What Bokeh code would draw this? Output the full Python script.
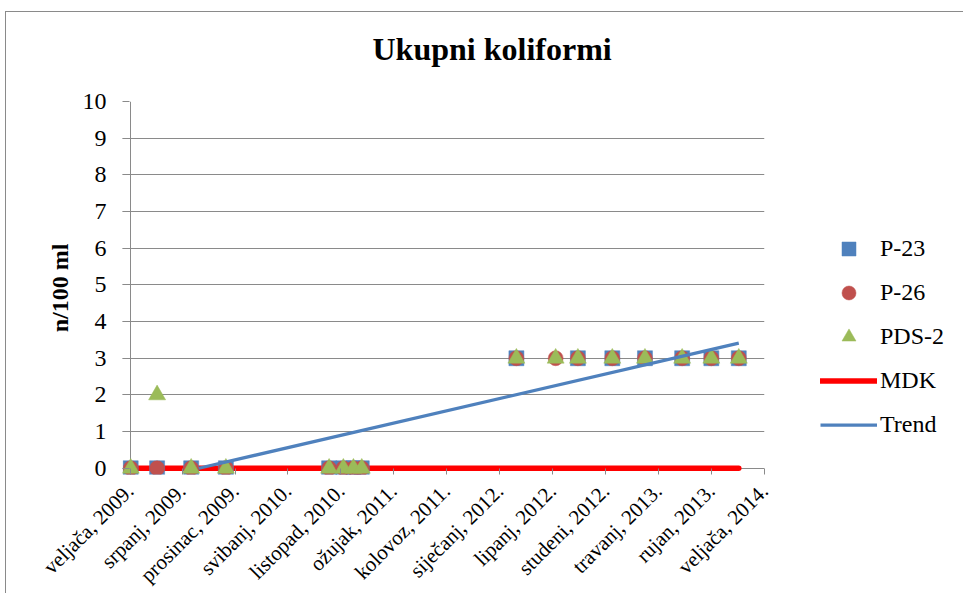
import math
import numpy as np
import pandas as pd
from bokeh.plotting import figure
from bokeh.models import (Range1d, FixedTicker, Legend, LegendItem, ColumnDataSource,
                          Title)
from bokeh.embed import file_html
from bokeh.resources import INLINE

# ---------------- data ----------------
dates = ["2009-02-03", "2009-04-20", "2009-07-27", "2009-11-04",
         "2010-08-28", "2010-10-08", "2010-11-06", "2010-11-30",
         "2012-02-18", "2012-06-10", "2012-08-13", "2012-11-20",
         "2013-02-22", "2013-06-09", "2013-09-01", "2013-11-19"]
p23 = [0, 0, 0, 0, 0, 0, 0, 0, 3, np.nan, 3, 3, 3, 3, 3, 3]
p26 = [0, 0, 0, 0, 0, 0, 0, 0, 3, 3, 3, 3, 3, 3, 3, 3]
pds2 = [0, 2, 0, 0, 0, 0, 0, 0, 3, 3, 3, 3, 3, 3, 3, 3]
mdk = [0] * 16
trend_dates = ["2009-08-18", "2013-11-19"]
trend_values = [0.0, 3.41]

tick_dates = ["2009-02-01", "2009-07-01", "2009-12-01", "2010-05-01", "2010-10-01",
              "2011-03-01", "2011-08-01", "2012-01-01", "2012-06-01", "2012-11-01",
              "2013-04-01", "2013-09-01", "2014-02-01"]
tick_labels = ["veljača, 2009.", "srpanj, 2009.", "prosinac, 2009.", "svibanj, 2010.",
               "listopad, 2010.", "ožujak, 2011.", "kolovoz, 2011.", "siječanj, 2012.",
               "lipanj, 2012.", "studeni, 2012.", "travanj, 2013.", "rujan, 2013.",
               "veljača, 2014."]
y_ticks = [0, 1, 2, 3, 4, 5, 6, 7, 8, 9, 10]


def to_ms(ds):
    return [float(v) for v in (pd.to_datetime(ds).astype("int64") // 10**6)]


x = to_ms(dates)
tick_ms = to_ms(tick_dates)
trend_x = to_ms(trend_dates)

FONT = "Liberation Serif"
GRID = "#8a8a8a"

# layout (pixels)
FW, FH = 642, 373
LEFT_PAD = 7.5           # room left of the value axis for the first markers
span = tick_ms[-1] - tick_ms[0]
x_start = tick_ms[0] - span * LEFT_PAD / (FW - LEFT_PAD)

p = figure(width=955, height=581, frame_width=FW, frame_height=FH,
           output_backend="svg", toolbar_location=None,
           x_range=Range1d(x_start, tick_ms[-1]),
           y_range=Range1d(-0.17, 10),
           min_border_left=116, min_border_right=197, min_border_top=89,
           min_border_bottom=119)
p.outline_line_color = None
p.background_fill_color = "white"
p.border_fill_color = "white"
p.styles = {"border-left": "1px solid #8a8a8a", "border-top": "1px solid #8a8a8a",
            "margin-left": "5px", "margin-top": "11px"}

src = ColumnDataSource(dict(x=x, p23=p23, p26=p26, pds2=pds2, mdk=mdk))

r_mdk = p.line("x", "mdk", source=src, line_color="#FF0000", line_width=5.5,
               line_cap="round")
r_p23 = p.scatter("x", "p23", source=src, marker="square", size=15,
                  fill_color="#4F81BD", line_color="#4F81BD", line_width=0.5)
r_p26 = p.scatter("x", "p26", source=src, marker="circle", size=15,
                  fill_color="#C0504D", line_color="#C0504D", line_width=0.5)
r_pds = p.scatter("x", "pds2", source=src, marker="triangle", size=17,
                  fill_color="#9BBB59", line_color="#9BBB59", line_width=0.5)
r_tr = p.line(trend_x, trend_values, line_color="#4F81BD", line_width=3.25)

# grid: horizontal value lines, plus the vertical value-axis line at the first tick
p.ygrid.grid_line_color = GRID
p.ygrid.grid_line_width = 1
p.xgrid.ticker = FixedTicker(ticks=[tick_ms[0]])
p.xgrid.grid_line_color = GRID
p.xgrid.grid_line_width = 1

# x axis (line drawn by the 0 grid line, ticks point down from it)
xa = p.xaxis[0]
xa.ticker = FixedTicker(ticks=tick_ms)
xa.major_label_overrides = {t: l for t, l in zip(tick_ms, tick_labels)}
xa.major_label_orientation = math.pi / 4
xa.major_label_text_font = FONT
xa.major_label_text_font_size = "21px"
xa.major_label_text_color = "black"
xa.axis_line_color = None
xa.major_tick_line_color = GRID
xa.major_tick_out = 0
xa.major_tick_in = 6
xa.minor_tick_line_color = None
xa.major_label_standoff = 13

# y axis
ya = p.yaxis[0]
ya.ticker = FixedTicker(ticks=y_ticks)
ya.major_label_text_font = FONT
ya.major_label_text_font_size = "24px"
ya.major_label_text_color = "black"
ya.axis_line_color = None
ya.major_tick_line_color = GRID
ya.major_tick_out = 0
ya.major_tick_in = 7
ya.minor_tick_line_color = None
ya.major_label_standoff = 16
ya.axis_label = "n/100 ml"
ya.axis_label_text_font = FONT
ya.axis_label_text_font_size = "24px"
ya.axis_label_text_font_style = "bold"
ya.axis_label_text_color = "black"
ya.axis_label_standoff = 7

# title (a thin spacer title keeps it higher above the plot area)
p.title.text = "Ukupni koliformi"
p.title.text_font = FONT
p.title.text_font_size = "32px"
p.title.text_font_style = "bold"
p.title.text_color = "black"
p.title.align = "left"
p.title.offset = 250
p.title.standoff = 10
p.add_layout(Title(text=" ", text_font_size="2px", standoff=26), "above")

legend = Legend(items=[
    LegendItem(label="P-23", renderers=[r_p23]),
    LegendItem(label="P-26", renderers=[r_p26]),
    LegendItem(label="PDS-2", renderers=[r_pds]),
    LegendItem(label="MDK", renderers=[r_mdk]),
    LegendItem(label="Trend", renderers=[r_tr]),
], location=(56, 32), glyph_width=57, glyph_height=35, spacing=9,
    label_standoff=3, padding=0, margin=0, border_line_color=None,
    background_fill_alpha=0, label_text_font=FONT, label_text_font_size="24px",
    label_text_color="black")
p.add_layout(legend, "right")

open("out.html", "w").write(file_html(p, INLINE))
